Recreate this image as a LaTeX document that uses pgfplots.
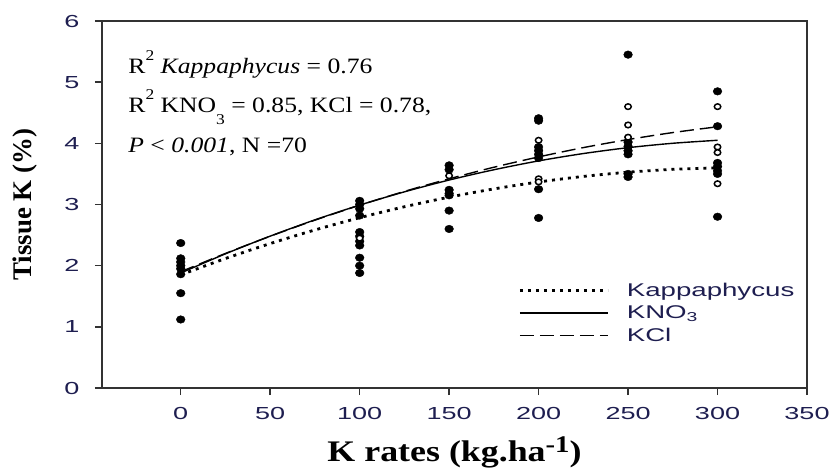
\documentclass[border=0pt]{standalone}
\usepackage{fontspec}
\setmainfont{Liberation Serif}
\newfontfamily\tickfont[FakeStretch=1.55]{Liberation Sans}
\newfontfamily\legfont[FakeStretch=1.5]{Liberation Sans}
\newfontfamily\annfont[FakeStretch=1.17]{Liberation Serif}
\newfontfamily\xlabfont[FakeStretch=1.2]{Liberation Serif}
\usepackage{pgfplots}
\pgfplotsset{compat=1.18}
\definecolor{navy}{RGB}{30,30,80}
\definecolor{axgray}{RGB}{50,50,50}

\pgfplotstableread{
x y
0 2.37
0 2.12
0 2.06
0 2.00
0 1.95
0 1.86
0 1.55
0 1.12
100 3.06
100 3.00
100 2.93
100 2.82
100 2.55
100 2.48
100 2.40
100 2.33
100 2.13
100 2.00
100 1.88
150 3.64
150 3.57
150 3.24
150 3.18
150 3.15
150 2.90
150 2.60
200 4.41
200 4.37
200 3.94
200 3.88
200 3.82
200 3.76
200 3.25
200 2.78
250 5.45
250 4.02
250 3.95
250 3.88
250 3.82
250 3.50
250 3.45
300 4.85
300 4.28
300 3.68
300 3.62
300 3.55
300 3.50
300 2.80
}\filledpts

\pgfplotstableread{
x y
100 2.45
150 3.47
200 4.05
200 3.42
200 3.37
250 4.60
250 4.30
250 4.10
300 4.60
300 3.94
300 3.85
300 3.34
}\hollowpts

\pgfplotstableread{
x kap kno kcl
0   1.850 1.880 1.900
25  2.117 2.194 2.200
50  2.361 2.483 2.481
75  2.584 2.749 2.744
100 2.784 2.990 2.988
125 2.963 3.207 3.214
150 3.120 3.400 3.420
175 3.255 3.568 3.609
200 3.368 3.713 3.778
225 3.459 3.833 3.930
250 3.528 3.929 4.062
275 3.575 4.001 4.176
300 3.600 4.050 4.271
}\fits

\begin{document}
\begin{tikzpicture}
\begin{axis}[
  scale only axis, width=705bp, height=367bp,
  xmin=-44, xmax=350, ymin=0, ymax=6,
  xtick={0,50,...,350}, ytick={0,1,...,6},
  tick align=outside, tick pos=left, major tick length=7bp,
  axis line style={axgray, line width=1.6bp},
  every tick/.style={axgray, line width=1.4bp},
  /pgf/number format/assume math mode=true,
  tick label style={font=\tickfont\fontsize{17.5}{17.5}\selectfont, text=navy},
  xticklabel style={yshift=-9bp},
  yticklabel style={xshift=-12bp},
  xlabel={\xlabfont\bfseries\fontsize{30}{30}\selectfont K rates (kg.ha\raisebox{9bp}{\fontsize{24}{24}\selectfont -1})},
  xlabel style={at={(rel axis cs:0.5,0)}, anchor=base, yshift=-73bp},
  ylabel={\bfseries\fontsize{27}{27}\selectfont Tissue K (\%)},
  ylabel style={at={(rel axis cs:0,0.5)}, anchor=center, yshift=77bp},
  legend image code/.code={\draw[#1] (0bp,0bp) -- (88bp,0bp); \path (104bp,0bp);},
  legend cell align=left,
  legend style={draw=none, fill=none, at={(axis cs:187,1.78)}, anchor=north west,
    font=\legfont\fontsize{18.5}{18.5}\selectfont, text=navy, row sep=5bp,
    nodes={inner sep=1.5bp}},
  clip=false,
]
\addplot[only marks, mark=*, mark size=3.8bp, mark options={black, xscale=1.15}, forget plot] table[x=x,y=y] {\filledpts};
\addplot[only marks, mark=*, mark size=2.8bp, mark options={fill=white, draw=black, line width=1.5bp, xscale=1.15}, forget plot] table[x=x,y=y] {\hollowpts};
\addplot[black, line width=2.8bp, dash pattern=on 3bp off 5bp, smooth] table[x=x,y=kap] {\fits};
\addlegendentry{Kappaphycus}
\addplot[black, line width=1.4bp, smooth] table[x=x,y=kno] {\fits};
\addlegendentry{KNO\textsubscript{3}}
\addplot[black, line width=1.4bp, dash pattern=on 14bp off 6bp, smooth] table[x=x,y=kcl] {\fits};
\addlegendentry{KCl}
\node[anchor=base west, font=\annfont\fontsize{22}{22}\selectfont] at (axis cs:-31.2,5.14)
  {R\raisebox{13bp}{\fontsize{15}{15}\selectfont 2} \textit{Kappaphycus} = 0.76};
\node[anchor=base west, font=\annfont\fontsize{22}{22}\selectfont] at (axis cs:-31.2,4.51)
  {R\raisebox{13bp}{\fontsize{15}{15}\selectfont 2} KNO\raisebox{-12bp}{\fontsize{15}{15}\selectfont 3} = 0.85, KCl = 0.78,};
\node[anchor=base west, font=\annfont\fontsize{22}{22}\selectfont] at (axis cs:-31.2,3.85)
  {\textit{P} \textless{} \textit{0.001}, N =70};
\end{axis}
\pgfresetboundingbox
\path[use as bounding box] (-102bp,-84bp) rectangle (729bp,388bp);
\end{tikzpicture}
\end{document}
